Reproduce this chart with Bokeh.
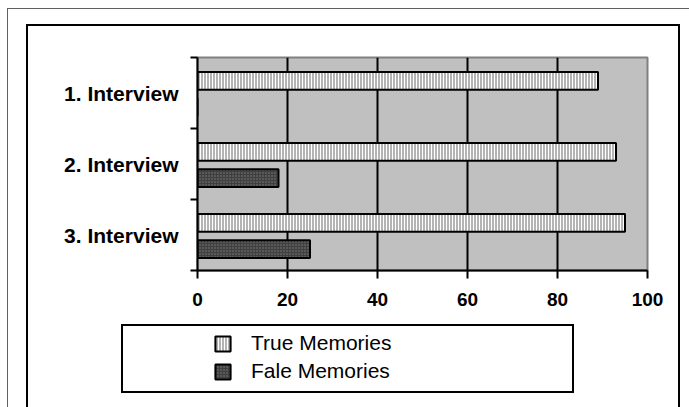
from bokeh.plotting import figure
from bokeh.models import (Range1d, LinearAxis, FixedTicker, Div,
                          ColumnDataSource, Legend, LegendItem, CustomJSTickFormatter)
from bokeh.layouts import column
from bokeh.transform import dodge
from bokeh.embed import file_html
from bokeh.resources import INLINE

categories = ["1. Interview", "2. Interview", "3. Interview"]
true_memories = [89, 93, 95]
false_memories = [0, 18, 25]
x_ticks = [0, 20, 40, 60, 80, 100]
legend_labels = ["True Memories", "Fale Memories"]

FONT = "Liberation Sans"
TRUE_STYLE = dict(fill_color="#b4b4b4", hatch_pattern="vertical_line", hatch_color="white",
                  hatch_scale=3, hatch_weight=1, line_color="black", line_width=2)
FALSE_STYLE = dict(fill_color="#404040", hatch_pattern="dot", hatch_color="#808080",
                   hatch_scale=3, hatch_weight=1, line_color="black", line_width=2)

centers = [i + 0.5 for i in range(len(categories))]
source = ColumnDataSource(dict(cat=categories, pos=centers, true=true_memories, false=false_memories))

p = figure(width=689, height=316, output_backend="svg", toolbar_location=None,
           x_range=Range1d(0, 100), y_range=Range1d(len(categories), 0),
           y_axis_location=None,
           min_border_left=197, min_border_right=42, min_border_top=57, min_border_bottom=46)
p.background_fill_color = "#c0c0c0"
p.border_fill_alpha = 0
p.outline_line_color = "#808080"
p.outline_line_width = 2

# x axis
p.xaxis.ticker = FixedTicker(ticks=x_ticks)
p.xaxis.axis_line_width = 2
p.xaxis.axis_line_color = "black"
p.xaxis.major_tick_line_width = 2
p.xaxis.major_tick_out = 8
p.xaxis.major_tick_in = 0
p.xaxis.minor_tick_line_color = None
p.xaxis.major_label_text_font = FONT
p.xaxis.major_label_text_font_style = "bold"
p.xaxis.major_label_text_font_size = "19px"
p.xaxis.major_label_text_color = "black"
p.xaxis.major_label_standoff = 14

p.xgrid.ticker = FixedTicker(ticks=x_ticks)
p.xgrid.grid_line_color = "black"
p.xgrid.grid_line_width = 2
p.ygrid.grid_line_color = None

# y axis: boundary ticks + category labels
tick_axis = LinearAxis(ticker=FixedTicker(ticks=list(range(len(categories) + 1))),
                       major_tick_out=7, major_tick_in=0, major_tick_line_width=2,
                       axis_line_width=2, minor_tick_line_color=None,
                       formatter=CustomJSTickFormatter(code="return ''"),
                       major_label_text_font_size="1px", major_label_standoff=0)
p.add_layout(tick_axis, "left")
label_axis = LinearAxis(ticker=FixedTicker(ticks=centers),
                        major_label_overrides={c: name for c, name in zip(centers, categories)},
                        axis_line_color=None, major_tick_line_color=None,
                        minor_tick_line_color=None,
                        major_label_text_font=FONT, major_label_text_font_style="bold",
                        major_label_text_font_size="21px", major_label_text_color="black",
                        major_label_standoff=6)
p.add_layout(label_axis, "left")

p.hbar(y=dodge("pos", -0.17), right="true", left=0, height=0.25, source=source, **TRUE_STYLE)
p.hbar(y=dodge("pos", 0.2), right="false", left=0, height=0.25, source=source, **FALSE_STYLE)

# legend area (second figure directly below; its renderers only feed the legend)
q = figure(width=689, height=91, output_backend="svg", toolbar_location=None,
           x_range=Range1d(1000, 1100), y_range=Range1d(10, 11),
           x_axis_location=None, y_axis_location=None,
           min_border=0, min_border_left=0, min_border_right=0, min_border_top=0, min_border_bottom=0)
q.background_fill_alpha = 0
q.border_fill_alpha = 0
q.outline_line_color = None
q.xgrid.grid_line_color = None
q.ygrid.grid_line_color = None
lt = q.hbar(y="pos", right="true", left=0, height=0.25, source=source, **TRUE_STYLE)
lf = q.hbar(y="pos", right="false", left=0, height=0.25, source=source, **FALSE_STYLE)
lt.visible = False
lf.visible = False
legend = Legend(items=[LegendItem(label=legend_labels[0], renderers=[lt]),
                       LegendItem(label=legend_labels[1], renderers=[lf])],
                location=(16, 24), border_line_color=None, background_fill_alpha=0,
                padding=0, margin=0, spacing=4, glyph_width=19, glyph_height=19,
                label_height=24, label_standoff=19,
                label_text_font=FONT, label_text_font_size="21px", label_text_color="black")
q.add_layout(legend, "center")

frames = Div(text=(
    '<div style="position:fixed;box-sizing:border-box;left:7px;top:8px;width:720px;height:440px;'
    'border:1px solid #606060;pointer-events:none"></div>'
    '<div style="position:fixed;box-sizing:border-box;left:26px;top:24px;width:654px;height:440px;'
    'border:2px solid black;pointer-events:none"></div>'
    '<div style="position:fixed;box-sizing:border-box;left:121px;top:324px;width:453px;height:69px;'
    'border:2px solid black;pointer-events:none"></div>'),
    width=10, height=1)

layout = column(p, q, frames)
open("out.html", "w").write(file_html(layout, INLINE))
